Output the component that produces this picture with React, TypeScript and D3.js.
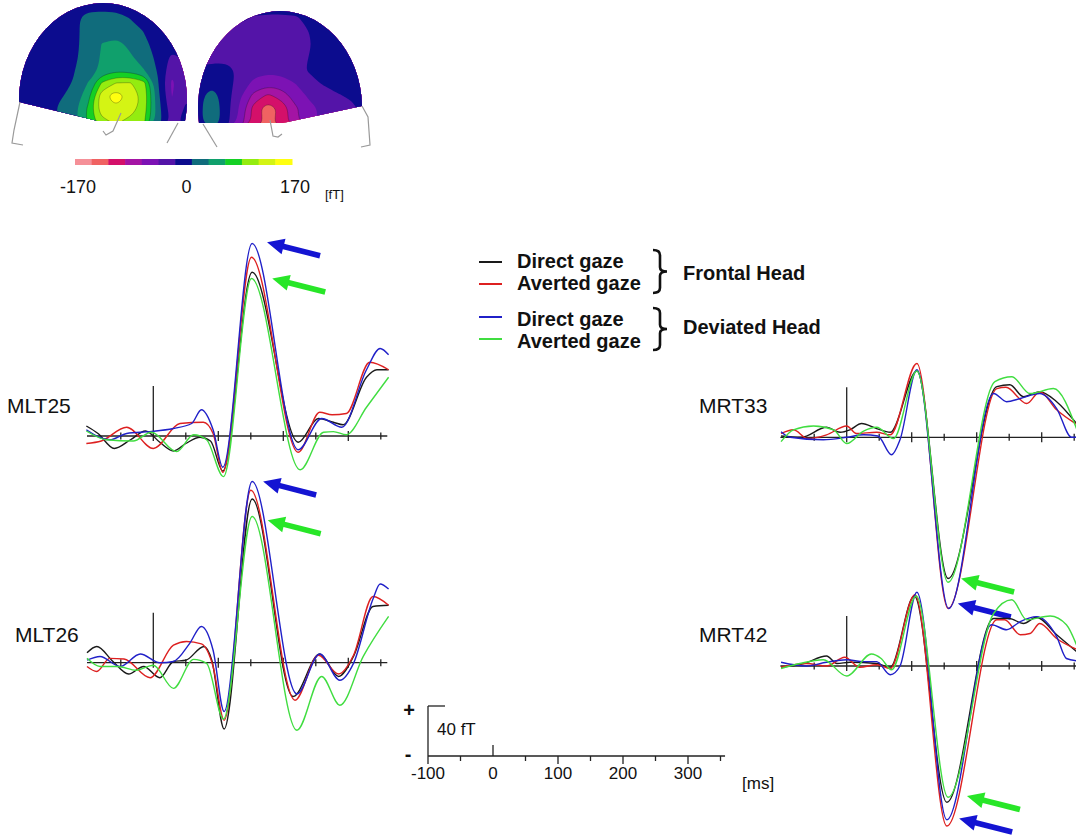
import * as d3 from "d3";

type Pt = [number, number];

const FONT = "'Liberation Sans', Arial, sans-serif";

// ---- field topography (fT), 13 columns x 10 rows over each head
const leftHeadField = [
  0, 0, 0, 0, 0, 0, 0, 0, 0, 0, 0, 0, 0,
  0, 0, 0, 0, 5, 25, 25, 25, 12, 3, 0, 0, 0,
  0, 0, 0, 0, 5, 25, 28, 30, 28, 12, 0, 0, 0,
  0, 0, 0, 0, 6, 25, 40, 45, 35, 18, 5, 0, 0,
  0, 0, 0, 0, 8, 25, 42, 55, 42, 30, 5, -18, -10,
  0, 0, 0, 0, 12, 26, 45, 58, 52, 40, 10, -30, -10,
  0, 0, 0, 3, 15, 40, 95, 118, 120, 100, 15, -45, -15,
  0, 0, 2, 10, 22, 55, 135, 160, 135, 110, 20, -40, -15,
  0, 0, 0, 18, 30, 70, 135, 140, 130, 105, 25, -30, -10,
  0, 0, 0, 15, 30, 70, 110, 120, 110, 95, 25, -20, -5,
];
const rightHeadField = [
  0, 0, 0, 0, 0, 0, 0, 0, 0, 0, 0, 0, 0,
  0, 0, 0, -5, -16, -18, -18, -16, -5, 0, 0, 0, 0,
  -3, -8, -18, -25, -28, -28, -28, -25, -12, 0, 0, 0, 0,
  -12, -20, -25, -28, -30, -30, -30, -25, -14, 0, 0, 0, 0,
  -18, -22, -20, -25, -30, -30, -30, -22, -12, 0, 0, 0, 0,
  -10, -5, -5, -18, -30, -32, -30, -20, -10, -2, 0, 0, 0,
  0, 5, 0, -25, -45, -55, -50, -38, -20, -10, -5, 0, 0,
  5, 25, 0, -35, -75, -98, -80, -52, -35, -25, -15, -10, 0,
  5, 30, 0, -45, -105, -135, -110, -70, -45, -35, -25, -18, -5,
  5, 30, 0, -50, -100, -125, -105, -70, -45, -32, -25, -20, -10,
];

const colorBarColors = [
  "#f59098", "#f06262", "#d4106a", "#a414a4", "#7c12b4", "#5414a8", "#0c0c8e",
  "#106c7c", "#10a06c", "#14d024", "#94ec10", "#d4f414", "#ffff10",
];
const colorBarTicks = [-170, 0, 170];

// ---- evoked fields [ms, fT]
const mlt25Direct: Pt[] = [[-103, 8], [-85, 2], [-60, -10], [-35, -3], [-12, 4], [10, -5], [31, -12], [50, -6], [72, -1], [88, -4], [107, -28], [152, 131], [223, -5], [254, 14], [277, 11], [292, 9], [328, 47], [344, 53], [362, 53]];
const mlt25Averted: Pt[] = [[-103, -6], [-80, -4], [-41, 7], [0, -10], [41, 10], [77, 11], [92, 2], [107, -29], [151, 143], [223, -13], [256, 19], [275, 17], [297, 18], [333, 59], [362, 53]];
const mlt25DevDirect: Pt[] = [[-103, 5], [-67, -3], [-41, 2], [-5, 3.5], [31, 6], [59, 10], [74, 21], [92, 5], [107, -25], [152, 154], [223, -11], [259, 14], [290, 7], [328, 53], [349, 70], [362, 65]];
const mlt25DevAverted: Pt[] = [[-103, 4], [-72, -3], [-31, -4], [-3, 3], [36, -12.5], [62, 1], [82, -3], [108, -32.5], [151, 126], [226, -27], [262, 3], [277, 3.5], [297, 1], [328, 23], [362, 47]];

const mlt26Direct: Pt[] = [[-102, 8], [-87, 13], [-62, 1], [-38, -9], [-15, -3], [10, -12], [31, 1], [50, 2], [78, 13], [90, 2], [109, -53], [152, 131], [215, -27], [256, 7], [285, -11], [308, 5], [338, 45], [362, 46]];
const mlt26Averted: Pt[] = [[-102, -3], [-87, -7], [-67, 3.5], [-45, 3], [-5, -12], [31, 14], [51, 17], [74, 15], [92, -3], [109, -46], [150, 138], [218, -30], [254, 6], [285, -9], [308, 6], [338, 53], [362, 46]];
const mlt26DevDirect: Pt[] = [[-102, 2], [-82, 5], [-51, -3], [-20, 7], [10, 0], [31, 1], [56, 15.5], [74, 29], [92, 10], [109, -39], [152, 145], [221, -25], [256, 7], [287, -14], [308, -0.5], [338, 51], [349, 63], [362, 59]];
const mlt26DevAverted: Pt[] = [[-102, 3.5], [-82, -3], [-55, -3], [-26, -6], [0, -2], [31, -20.5], [62, 2.7], [82, -0.5], [108, -45], [152, 117], [221, -54], [259, -11], [287, -34], [323, 5], [362, 37]];

const mrt33Direct: Pt[] = [[-101, 1], [-70, 0], [-31, 8], [-10, 4], [5, 6], [23, 11], [46, 7], [67, 4], [108, 53], [156, -113], [231, 40.5], [251, 42], [272, 32.5], [297, 36.5], [323, 28.5], [355, 10]];
const mrt33Averted: Pt[] = [[-101, 3], [-82, 6], [-60, -1], [-31, 2], [0, 9], [15, 3], [46, 4], [67, 2], [108, 59], [156, -137], [231, 39], [245, 40], [277, 27], [297, 36.5], [323, 22], [355, 10]];
const mrt33DevDirect: Pt[] = [[-101, 4.5], [-87, 0], [-36, -2], [0, 0], [26, 2], [48, 1], [69, -14], [82, -2], [108, 54], [157, -137], [226, 35], [246, 28.5], [267, 31], [297, 35], [323, 23], [346, 0], [355, 0]];
const mrt33DevAverted: Pt[] = [[-101, -3.5], [-82, 6], [-51, 9], [-20, 6], [0, -5], [26, 5], [46, 8], [72, -1], [108, 53], [156, -116], [228, 44.5], [254, 48.5], [282, 35], [318, 39], [355, 5]];

const mrt42Direct: Pt[] = [[-101, -1], [-66, 2], [-31, 8], [-15, 2], [5, 3], [46, 2], [67, -1], [104, 56], [154, -109], [226, 38], [250, 38], [272, 34], [292, 39], [323, 25], [355, 11]];
const mrt42Averted: Pt[] = [[-101, -1], [-62, 2], [-31, 0], [-3, 7], [20, -1], [46, 1], [67, -2], [105, 57], [154, -128], [231, 37], [243, 37], [267, 25], [282, 26], [297, 34], [323, 22], [355, 13]];
const mrt42DevDirect: Pt[] = [[-101, 3], [-62, 0], [-31, 3], [0, 5], [26, 3.5], [46, 3.5], [67, -7], [82, 0], [108, 59], [154, -123], [223, 33], [246, 29], [267, 35.5], [292, 39.5], [323, 23.5], [338, 6], [355, 4]];
const mrt42DevAverted: Pt[] = [[-101, -2], [-72, 2], [-36, 5], [0, -8], [38, 9.6], [53, 6], [69, -3], [107, 56], [156, -105], [226, 42], [254, 53], [277, 37], [313, 40], [338, 33], [355, 15]];

// arrow tips [ms, fT]: blue then green
const mlt25Arrows: Pt[] = [[175, 155], [183, 126]];
const mlt26Arrows: Pt[] = [[169, 145], [176, 114]];
const mrt33Arrows: Pt[] = [[171, -133], [176, -113]];
const mrt42Arrows: Pt[] = [[173, -122], [185, -104]];

const majorTicks = [100, 200, 300];
const minorTicks = [-50, 50, 150, 250, 350];
const scaleBarLabels = [-100, 0, 100, 200, 300];

const conditionLabels = ["Direct gaze", "Averted gaze", "Direct gaze", "Averted gaze"];
const headLabels = ["Frontal Head", "Deviated Head"];

const seriesColors = ["#1a1a1a", "#dd2020", "#2020c8", "#40dd40"];
const arrowColors = ["#1414d2", "#28e628"];

// ---- topomap
const GRID_W = 13;
const GRID_H = 10;
const quant = d3.scaleQuantize<string>().domain([-170, 170]).range(colorBarColors);
const thresholds = [-170, ...quant.thresholds()];
const contourGen = d3.contours().size([GRID_W, GRID_H]).thresholds(thresholds);
const smooth = d3.line().curve(d3.curveBasisClosed);

function Head({ field, x0, id, clipD }: { field: number[]; x0: number; id: string; clipD: string }) {
  const gx = d3.scaleLinear().domain([0.5, GRID_W - 0.5]).range([x0, x0 + 14 * (GRID_W - 1)]);
  const gy = d3.scaleLinear().domain([0.5, GRID_H - 0.5]).range([5, 5 + 13 * (GRID_H - 1)]);
  const polys = contourGen(field);
  return (
    <g>
      <defs>
        <clipPath id={id}>
          <path d={clipD} />
        </clipPath>
      </defs>
      <g clipPath={`url(#${id})`}>
        <rect x={x0 - 20} y={0} width={200} height={140} fill={colorBarColors[6]} />
        {polys.map((c, i) => {
          const d = c.coordinates
            .map((poly) =>
              poly
                .map((ring) => smooth(ring.slice(0, -1).map(([a, b]) => [gx(a), gy(b)] as [number, number])) || "")
                .join("")
            )
            .join("");
          const t = thresholds[i];
          return (
            <path
              key={i}
              d={d}
              fill={colorBarColors[i]}
              fillRule="evenodd"
              stroke={Math.abs(t) > 60 ? "rgba(20,20,20,0.55)" : "none"}
              strokeWidth={0.5}
            />
          );
        })}
      </g>
    </g>
  );
}

function Arrow({ tip, color }: { tip: Pt; color: string }) {
  const tail: Pt = [tip[0] + 53, tip[1] + 13.5];
  const len = Math.hypot(tail[0] - tip[0], tail[1] - tip[1]);
  const ux = (tail[0] - tip[0]) / len;
  const uy = (tail[1] - tip[1]) / len;
  const nx = -uy;
  const ny = ux;
  const hl = 17, hw = 8, sw = 2.8;
  const bx = tip[0] + ux * hl;
  const by = tip[1] + uy * hl;
  const pts = [
    [tip[0], tip[1]],
    [bx + nx * hw, by + ny * hw],
    [bx + nx * sw, by + ny * sw],
    [tail[0] + nx * sw, tail[1] + ny * sw],
    [tail[0] - nx * sw, tail[1] - ny * sw],
    [bx - nx * sw, by - ny * sw],
    [bx - nx * hw, by - ny * hw],
  ];
  return <polygon points={pts.map((p) => p.join(",")).join(" ")} fill={color} />;
}

function Panel({
  x0, y0, label, labelX, labelY, series, arrows,
}: {
  x0: number; y0: number; label: string; labelX: number; labelY: number; series: Pt[][]; arrows: Pt[];
}) {
  const x = d3.scaleLinear().domain([-100, 360]).range([x0 - 65, x0 + 234]);
  const y = d3.scaleLinear().domain([0, 40]).range([y0, y0 - 50]);
  const line = d3
    .line<Pt>()
    .x((d) => x(d[0]))
    .y((d) => y(d[1]))
    .curve(d3.curveMonotoneX);
  return (
    <g>
      <text x={labelX} y={labelY} fontSize={21} fontFamily={FONT} fill="#111">
        {label}
      </text>
      <g stroke="#222" strokeWidth={1.3}>
        <line x1={x(-102)} x2={x(360)} y1={y0} y2={y0} />
        <line x1={x(0)} x2={x(0)} y1={y(40)} y2={y(-4)} />
        {majorTicks.map((t) => (
          <line key={t} x1={x(t)} x2={x(t)} y1={y0 - 5} y2={y0 + 5} />
        ))}
        {minorTicks.map((t) => (
          <line key={t} x1={x(t)} x2={x(t)} y1={y0 - 3.5} y2={y0 + 3.5} />
        ))}
      </g>
      {series.map((s, i) => (
        <path key={i} d={line(s) || ""} fill="none" stroke={seriesColors[i]} strokeWidth={1.4} />
      ))}
      {arrows.map((a, i) => (
        <Arrow key={i} tip={[x(a[0]), y(a[1])]} color={arrowColors[i]} />
      ))}
    </g>
  );
}

function Brace({ x, y1, y2 }: { x: number; y1: number; y2: number }) {
  const m = (y1 + y2) / 2;
  const w = 14;
  const h = y2 - y1;
  const d = `M${x},${y1} Q${x + w / 2},${y1} ${x + w / 2},${y1 + h * 0.12} L${x + w / 2},${m - h * 0.1} Q${x + w / 2},${m} ${x + w},${m} Q${x + w / 2},${m} ${x + w / 2},${m + h * 0.1} L${x + w / 2},${y2 - h * 0.12} Q${x + w / 2},${y2} ${x},${y2}`;
  return <path d={d} fill="none" stroke="#111" strokeWidth={2.6} />;
}

export default function App() {
  const cb = d3.scaleLinear().domain([-170, 170]).range([75, 292]);
  const sb = d3.scaleLinear().domain([-100, 360]).range([428, 727]);
  const sy = d3.scaleLinear().domain([0, 40]).range([756, 706]);
  const legendY = [262, 284, 317, 339];
  const textY = [268, 290, 326, 348];
  const binW = cb(-170 + 340 / 13) - cb(-170);
  return (
    <div style={{ position: "absolute", left: 0, top: 0 }}>
      <svg width={1076} height={839} style={{ display: "block", background: "#fff" }}>
        {/* topographic maps */}
        <Head field={leftHeadField} x0={18} id="hl" clipD="M19,102 A84,97 0 1 1 185,121 L98,121 Z" />
        <Head field={rightHeadField} x0={198} id="hr" clipD="M199,123 A82,97 0 1 1 362,106 L283,123 Z" />
        <g fill="none" stroke="#9a9a9a" strokeWidth={1.2}>
          <path d="M20,102 L14,130 L12,143 L23,145" />
          <path d="M121,113 L113,131 L106,135 L103,131" />
          <path d="M178,123 L167,143" />
          <path d="M203,124 L217,147" />
          <path d="M270,120 L273,136 L278,137 L282,134" />
          <path d="M362,106 L368,117 L370,145 L361,147" />
        </g>
        {colorBarColors.map((c, i) => (
          <rect key={i} x={cb(-170) + binW * i} y={159} width={binW + 0.5} height={6} fill={c} />
        ))}
        {colorBarTicks.map((t) => (
          <text key={t} x={cb(t) + 3} y={193} fontSize={18} fontFamily={FONT} textAnchor="middle" fill="#111">
            {t}
          </text>
        ))}
        <text x={325} y={199} fontSize={13} fontFamily={FONT} fill="#111">[fT]</text>

        {/* legend */}
        {conditionLabels.map((l, i) => (
          <g key={i}>
            <line x1={479} x2={502} y1={legendY[i]} y2={legendY[i]} stroke={seriesColors[i]} strokeWidth={2} />
            <text x={517} y={textY[i]} fontSize={20} fontWeight="bold" fontFamily={FONT} fill="#111">
              {l}
            </text>
          </g>
        ))}
        <Brace x={653} y1={250} y2={293} />
        <Brace x={653} y1={308} y2={350} />
        {headLabels.map((l, i) => (
          <text key={l} x={683} y={i === 0 ? 280 : 334} fontSize={20} fontWeight="bold" fontFamily={FONT} fill="#111">
            {l}
          </text>
        ))}

        {/* waveforms */}
        <Panel x0={153.3} y0={436} label="MLT25" labelX={7} labelY={413}
          series={[mlt25Direct, mlt25Averted, mlt25DevDirect, mlt25DevAverted]} arrows={mlt25Arrows} />
        <Panel x0={153.3} y0={662.7} label="MLT26" labelX={15} labelY={642}
          series={[mlt26Direct, mlt26Averted, mlt26DevDirect, mlt26DevAverted]} arrows={mlt26Arrows} />
        <Panel x0={846.7} y0={437.3} label="MRT33" labelX={699} labelY={413}
          series={[mrt33Direct, mrt33Averted, mrt33DevDirect, mrt33DevAverted]} arrows={mrt33Arrows} />
        <Panel x0={846.7} y0={666} label="MRT42" labelX={699} labelY={642}
          series={[mrt42Direct, mrt42Averted, mrt42DevDirect, mrt42DevAverted]} arrows={mrt42Arrows} />

        {/* scale bar */}
        <g stroke="#222" strokeWidth={1.3}>
          <line x1={sb(-100)} x2={sb(357)} y1={sy(0)} y2={sy(0)} />
          <line x1={sb(-100)} x2={sb(-100)} y1={sy(40)} y2={sy(0) + 8} />
          <line x1={sb(-100)} x2={sb(-100) + 17} y1={sy(40)} y2={sy(40)} />
          <line x1={sb(0)} x2={sb(0)} y1={sy(0) - 11} y2={sy(0)} />
          {majorTicks.map((t) => (
            <line key={t} x1={sb(t)} x2={sb(t)} y1={sy(0)} y2={sy(0) + 8} />
          ))}
          {minorTicks.map((t) => (
            <line key={t} x1={sb(t)} x2={sb(t)} y1={sy(0)} y2={sy(0) + 5} />
          ))}
        </g>
        {scaleBarLabels.map((t) => (
          <text key={t} x={sb(t)} y={779} fontSize={17} fontFamily={FONT} textAnchor="middle" fill="#111">
            {t}
          </text>
        ))}
        <text x={742} y={789} fontSize={17} fontFamily={FONT} fill="#111">[ms]</text>
        <text x={409} y={717} fontSize={20} fontWeight="bold" fontFamily={FONT} textAnchor="middle" fill="#111">+</text>
        <text x={408} y={761} fontSize={20} fontWeight="bold" fontFamily={FONT} textAnchor="middle" fill="#111">-</text>
        <text x={437} y={735} fontSize={17} fontFamily={FONT} fill="#111">40 fT</text>
      </svg>
    </div>
  );
}
